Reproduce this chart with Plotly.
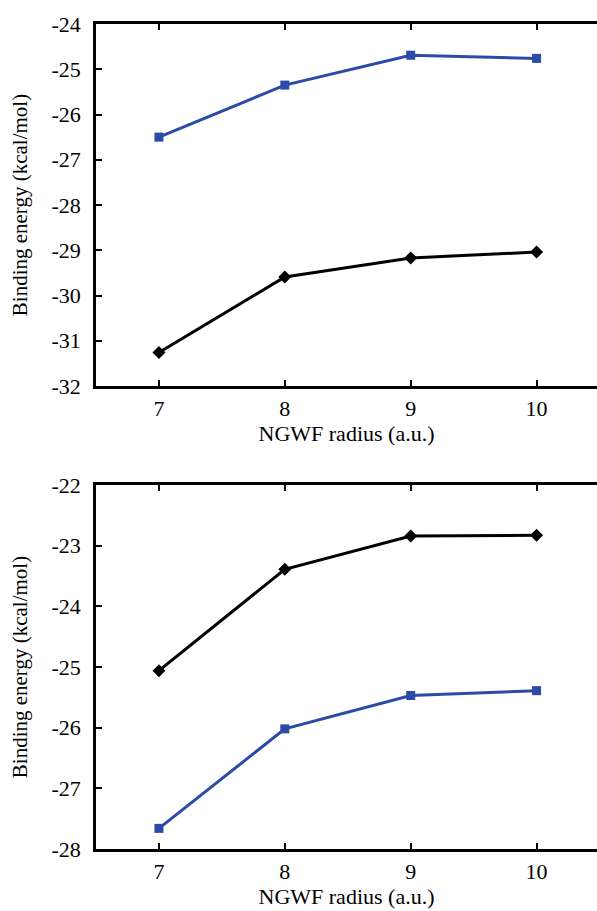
import plotly.graph_objects as go
from plotly.subplots import make_subplots

# NGWF radius (a.u.)
radius = [7, 8, 9, 10]

# Binding energies (kcal/mol), upper panel
top_blue = [-26.50, -25.35, -24.69, -24.76]
top_black = [-31.26, -29.59, -29.17, -29.04]

# Binding energies (kcal/mol), lower panel
bottom_black = [-25.06, -23.39, -22.84, -22.83]
bottom_blue = [-27.66, -26.02, -25.47, -25.39]

top_ticks = [-32, -31, -30, -29, -28, -27, -26, -25, -24]
bottom_ticks = [-28, -27, -26, -25, -24, -23, -22]

BLUE = "#2c4ba6"
FONT = "Liberation Serif"

fig = make_subplots(rows=2, cols=1, vertical_spacing=0.12)


def add_series(row, y, color, symbol, size):
    fig.add_trace(
        go.Scatter(
            x=radius, y=y, mode="lines+markers",
            line=dict(color=color, width=3),
            marker=dict(color=color, symbol=symbol, size=size),
            showlegend=False,
        ),
        row=row, col=1,
    )


add_series(1, top_blue, BLUE, "square", 9)
add_series(1, top_black, "black", "diamond", 10)
add_series(2, bottom_black, "black", "diamond", 10)
add_series(2, bottom_blue, BLUE, "square", 9)

axis_common = dict(
    showline=True, linecolor="black", linewidth=2.5,
    ticks="inside", ticklen=6, tickwidth=2, tickcolor="black",
    showgrid=False, zeroline=False,
    tickfont=dict(family=FONT, size=22, color="black"),
)

for row, (dom, ticks) in enumerate(
    [([0.5612, 1.0], top_ticks), ([0.0, 0.4412], bottom_ticks)], start=1
):
    fig.update_xaxes(
        range=[6.5, 10.48], tickvals=radius, mirror="ticks",
        title=dict(text="NGWF radius (a.u.)",
                   font=dict(family=FONT, size=22, color="black"),
                   standoff=3),
        ticklabelstandoff=1,
        row=row, col=1, **axis_common,
    )
    fig.update_yaxes(
        domain=dom, range=[ticks[0], ticks[-1]], tickvals=ticks,
        ticktext=[str(t) for t in ticks],
        title=dict(text="Binding energy (kcal/mol)",
                   font=dict(family=FONT, size=21, color="black"),
                   standoff=19),
        ticklabelstandoff=8,
        row=row, col=1, **axis_common,
    )

fig.update_layout(
    width=597, height=911,
    margin=dict(l=96, r=0, t=24, b=62),
    plot_bgcolor="white", paper_bgcolor="white",
    font=dict(family=FONT, color="black"),
)

fig.write_html("out.html")
